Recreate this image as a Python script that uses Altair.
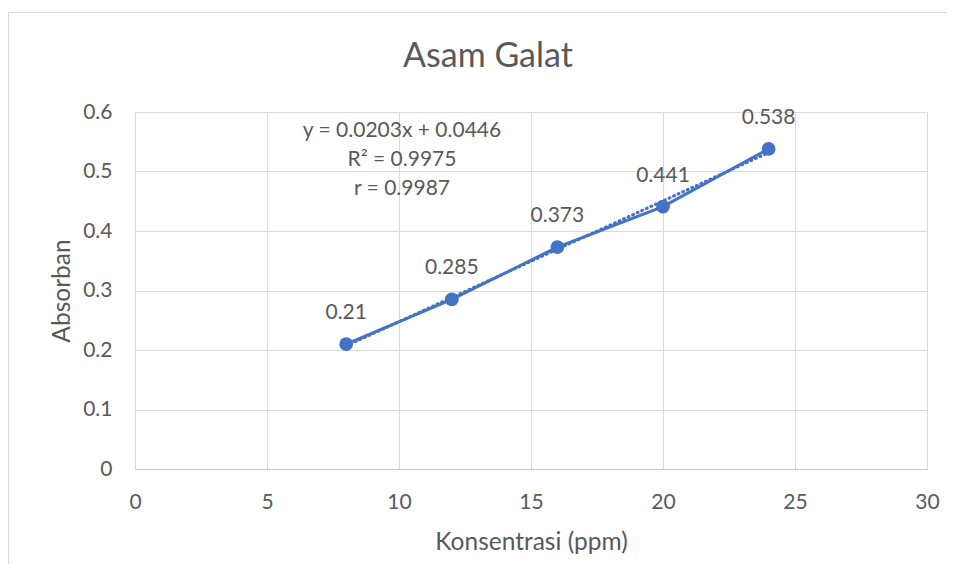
import altair as alt
import pandas as pd

# Data
konsentrasi = [8, 12, 16, 20, 24]
absorban = [0.21, 0.285, 0.373, 0.441, 0.538]
label_text = ["0.21", "0.285", "0.373", "0.441", "0.538"]
slope = 0.0203
intercept = 0.0446
equation_lines = ["y = 0.0203x + 0.0446", "R² = 0.9975", "r = 0.9987"]
chart_title = "Asam Galat"
x_title = "Konsentrasi (ppm)"
y_title = "Absorban"

FONT = "Lato"
TXT = "#595959"
BLUE = "#4472C4"
GRID = "#D9D9D9"

df = pd.DataFrame({"x": konsentrasi, "y": absorban, "lab": label_text})
trend_x = [konsentrasi[0], konsentrasi[-1]]
trend = pd.DataFrame({"x": trend_x, "y": [slope * v + intercept for v in trend_x]})
ttl = pd.DataFrame({"t": [chart_title]})

xs = alt.Scale(domain=[0, 30], nice=False)
ys = alt.Scale(domain=[0, 0.6], nice=False)

xax = alt.Axis(values=[0, 5, 10, 15, 20, 25, 30], title=x_title, grid=True,
               gridColor=GRID, domainColor="#C8C8C8", ticks=False, tickSize=0,
               labelFlush=False, labelOverlap=False,
               labelPadding=22, labelFontSize=21, labelColor=TXT, labelFont=FONT,
               titleFont=FONT, titleFontSize=24.5, titleColor=TXT, titleFontWeight="normal",
               titleX=396, titleY=73, titleBaseline="middle", titleAlign="center")
yax = alt.Axis(values=[0, 0.1, 0.2, 0.3, 0.4, 0.5, 0.6], title=y_title, grid=True,
               gridColor=GRID, domain=False, ticks=False, tickSize=0,
               labelFlush=False, labelOverlap=False, format="~g",
               labelPadding=23, labelFontSize=21, labelColor=TXT, labelFont=FONT,
               titleFont=FONT, titleFontSize=24.5, titleColor=TXT, titleFontWeight="normal",
               titleX=-73, titleY=178.5, titleAngle=270, titleBaseline="middle",
               titleAlign="center")

base = alt.Chart(df)

line = base.mark_line(color=BLUE, strokeWidth=3).encode(
    x=alt.X("x:Q", scale=xs, axis=xax),
    y=alt.Y("y:Q", scale=ys, axis=yax),
)
trendline = alt.Chart(trend).mark_line(color=BLUE, strokeWidth=3, strokeDash=[1, 4],
                                       strokeCap="round").encode(
    x=alt.X("x:Q", scale=xs), y=alt.Y("y:Q", scale=ys))
pts = base.mark_circle(color=BLUE, size=190, opacity=1).encode(
    x=alt.X("x:Q", scale=xs), y=alt.Y("y:Q", scale=ys))
labels = base.mark_text(font=FONT, fontSize=21, color=TXT, dy=-31,
                        baseline="middle").encode(
    x=alt.X("x:Q", scale=xs), y=alt.Y("y:Q", scale=ys), text="lab:N")

eq_layers = []
for i, line_txt in enumerate(equation_lines):
    eq_layers.append(
        alt.Chart(pd.DataFrame({"t": [line_txt]})).mark_text(
            font=FONT, fontSize=21, color=TXT, baseline="middle", align="center"
        ).encode(x=alt.value(267), y=alt.value(19 + 29 * i), text="t:N")
    )

title_text = alt.Chart(ttl).mark_text(font=FONT, fontSize=34, color=TXT,
                                      baseline="middle", align="center").encode(
    x=alt.value(353), y=alt.value(-55), text="t:N")

frame_top = alt.Chart(ttl).mark_rule(color=GRID, strokeWidth=1).encode(
    x=alt.value(-127), x2=alt.value(812), y=alt.value(-99.5))
frame_left = alt.Chart(ttl).mark_rule(color=GRID, strokeWidth=1).encode(
    x=alt.value(-126.5), y=alt.value(-100), y2=alt.value(452))

chart = alt.layer(frame_top, frame_left, trendline, line, pts, labels, *eq_layers,
                  title_text).properties(
    width=792, height=357,
    autosize=alt.AutoSizeParams(type="none"),
    padding={"left": 127, "top": 104, "right": 20, "bottom": 103},
).configure_view(stroke=None).configure(background="white")

chart.save("out.html", embed_options={"renderer": "svg", "actions": False})
